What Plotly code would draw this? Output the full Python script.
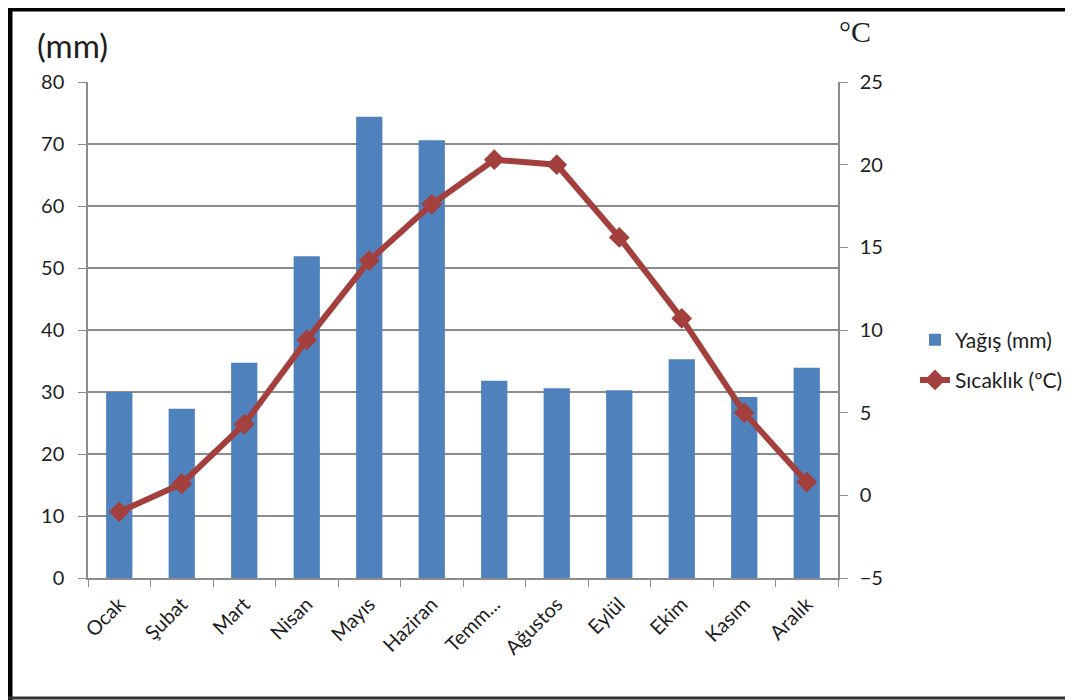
import plotly.graph_objects as go

months = ["Ocak", "Şubat", "Mart", "Nisan", "Mayıs", "Haziran", "Temm...",
          "Ağustos", "Eylül", "Ekim", "Kasım", "Aralık"]
rain_mm = [30.0, 27.3, 34.7, 51.9, 74.4, 70.6, 31.8, 30.6, 30.3, 35.3, 29.2, 33.9]
temp_c = [-1.0, 0.7, 4.3, 9.4, 14.2, 17.6, 20.3, 20.0, 15.6, 10.7, 5.0, 0.8]

rain_ticks = [0, 10, 20, 30, 40, 50, 60, 70, 80]
temp_ticks = [-5, 0, 5, 10, 15, 20, 25]

# page offset of the figure inside the browser (body margin)
OFF = 8
W, H = 1073 - OFF, 700 - OFF
# plot area in screenshot coordinates
L, R, T, B = 88, 838, 82, 578

def px(x):
    return (x - L) / (R - L)

def py(y):
    return (B - y) / (B - T)

font = "Lato, 'Open Sans', sans-serif"
grid = "#8c8c8c"
txt = "#1e1e1e"

fig = go.Figure()
fig.add_trace(go.Bar(
    x=months, y=rain_mm, name="Yağış (mm)",
    marker=dict(color="#4F81BD", line=dict(width=0)),
    legendgroup="a", yaxis="y",
))
fig.add_trace(go.Scatter(
    x=months, y=temp_c, name="Sıcaklık (ºC)", mode="lines+markers",
    line=dict(color="#A3403D", width=6),
    marker=dict(symbol="diamond", size=16, color="#A3403D"),
    legendgroup="b", yaxis="y2",
))

fig.update_layout(
    width=W, height=H,
    margin=dict(l=L - OFF, r=W - (R - OFF), t=T - OFF, b=H - (B - OFF),
                autoexpand=False),
    paper_bgcolor="white", plot_bgcolor="white",
    bargap=0.58,
    font=dict(family=font, size=19, color=txt),
    showlegend=True,
    legend=dict(x=px(915), y=py(360), xanchor="left", yanchor="middle",
                font=dict(size=21, color=txt), traceorder="grouped",
                tracegroupgap=10, bgcolor="rgba(0,0,0,0)"),
    xaxis=dict(
        type="category", range=[-0.5, len(months) - 0.5],
        tickangle=-45, ticks="outside", tickson="boundaries",
        ticklen=7, tickcolor=grid, showline=True, linecolor=grid, linewidth=1.5,
        showgrid=False, tickfont=dict(size=20, color=txt), automargin=False,
        ticklabelstandoff=5,
    ),
    yaxis=dict(
        range=[0, 80], tickvals=rain_ticks, ticks="outside", ticklen=8,
        tickcolor=grid, showline=True, linecolor=grid, linewidth=1.5,
        showgrid=True, gridcolor=grid, gridwidth=1.5, zeroline=False,
        tickfont=dict(size=20, color=txt), ticklabelstandoff=10,
        automargin=False,
    ),
    yaxis2=dict(
        range=[-5, 25], tickvals=temp_ticks, overlaying="y", side="right",
        ticks="outside", ticklen=8, tickcolor=grid, showline=True,
        linecolor=grid, linewidth=1.5, showgrid=False, zeroline=False,
        tickfont=dict(size=20, color=txt), ticklabelstandoff=8,
        automargin=False,
    ),
    annotations=[
        dict(text="(mm)", x=px(35), y=py(45), xref="paper", yref="paper",
             xanchor="left", yanchor="middle", showarrow=False,
             font=dict(size=33, color=txt, family=font)),
        dict(text="°C", x=px(837), y=py(31), xref="paper", yref="paper",
             xanchor="left", yanchor="middle", showarrow=False,
             font=dict(size=30, color=txt, family="Liberation Serif, serif")),
    ],
    shapes=[
        dict(type="line", xref="paper", yref="paper", x0=px(10), x1=px(10),
             y0=py(0), y1=py(700), line=dict(color="black", width=5)),
        dict(type="line", xref="paper", yref="paper", x0=px(0), x1=px(1080),
             y0=py(9.5), y1=py(9.5), line=dict(color="black", width=4)),
        dict(type="line", xref="paper", yref="paper", x0=px(0), x1=px(1080),
             y0=py(698), y1=py(698), line=dict(color="#333333", width=3)),
    ],
)

fig.write_html("out.html")
